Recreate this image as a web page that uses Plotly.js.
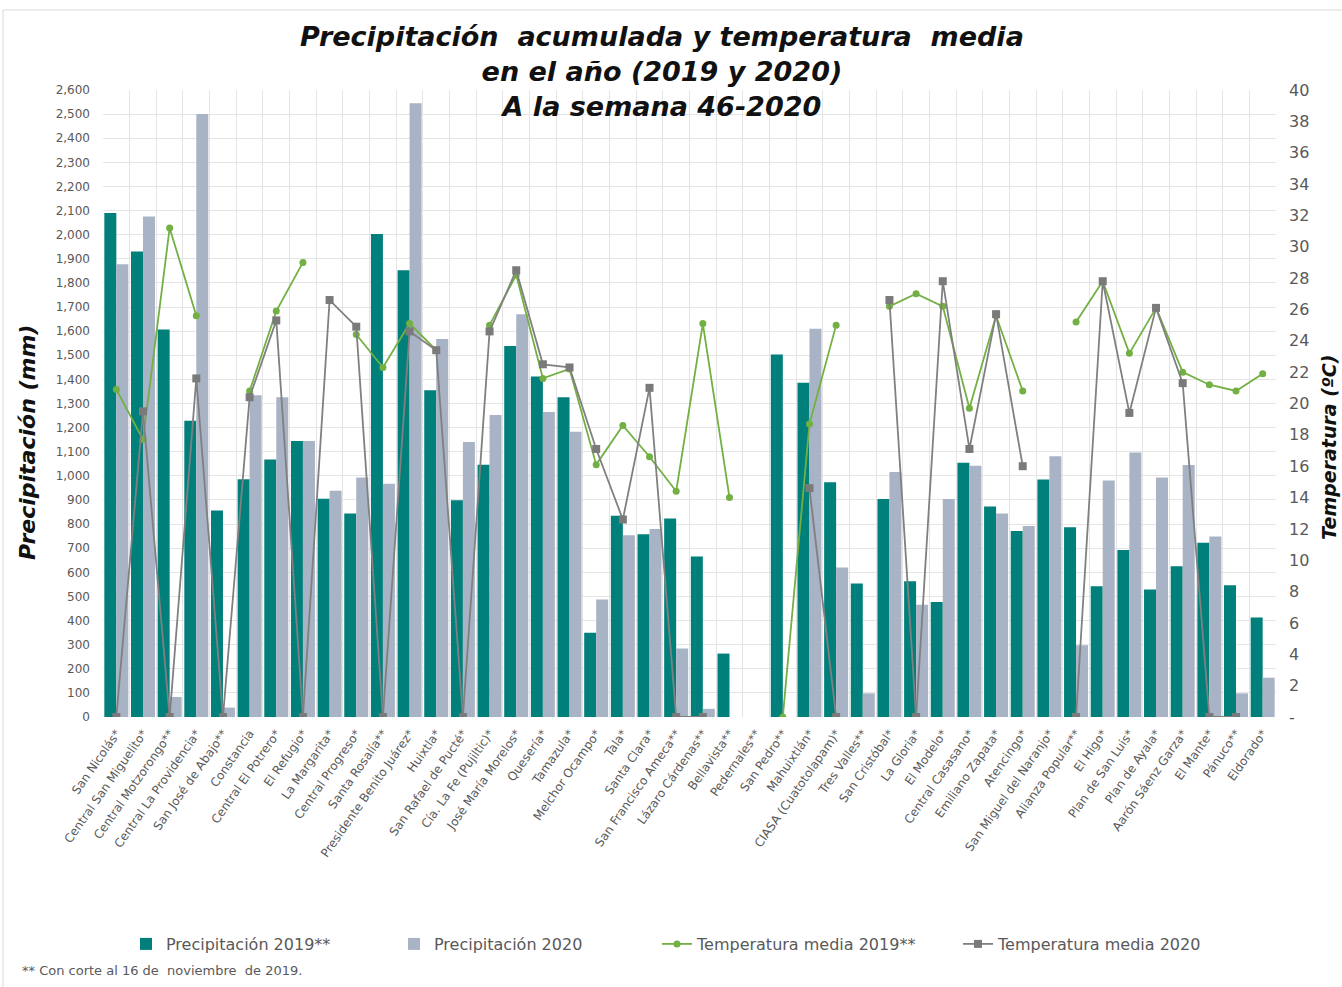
<!DOCTYPE html>
<html>
<head>
<meta charset="utf-8">
<script src="https://cdn.plot.ly/plotly-3.0.1.min.js"></script>
<style>html,body{margin:0;padding:0;background:#fff;}#chart{width:1342px;height:987px;}</style>
</head>
<body>
<div id="chart"></div>
<script>
const categories = ["San Nicolás*","Central San Miguelito*","Central Motzorongo**","Central La Providencia*","San José de Abajo**","Constancia","Central El Potrero*","El Refugio*","La Margarita*","Central Progreso*","Santa Rosalía**","Presidente Benito Juárez*","Huixtla*","San Rafael de Pucté*","Cía. La Fe (Pujiltic)*","José María Morelos*","Quesería*","Tamazula*","Melchor Ocampo*","Tala*","Santa Clara*","San Francisco Ameca**","Lázaro Cárdenas**","Bellavista**","Pedernales**","San Pedro**","Mahuixtlán*","CIASA (Cuatotolapam)*","Tres Valles**","San Cristóbal*","La Gloria*","El Modelo*","Central Casasano*","Emiliano Zapata*","Atencingo*","San Miguel del Naranjo*","Alianza Popular**","El Higo*","Plan de San Luis*","Plan de Ayala*","Aarón Sáenz Garza*","El Mante*","Pánuco**","Eldorado*"];

const precip2019 = [2090,1930,1607,1228,856,986,1068,1145,905,844,2003,1853,1355,899,1046,1538,1412,1326,349,835,758,823,666,263,null,1503,1386,973,554,904,563,477,1054,873,771,985,787,542,692,529,625,723,546,413];
const precip2020 = [1877,2075,83,2500,39,1334,1326,1145,938,993,967,2545,1567,1140,1252,1670,1265,1183,487,754,780,284,34,null,null,null,1610,620,98,1016,465,904,1042,844,792,1081,298,981,1097,993,1045,749,98,163];
const temp2019 = [20.9,17.7,31.2,25.6,null,20.8,25.9,29.0,null,24.4,22.3,25.1,23.4,null,25.0,28.2,21.6,22.2,16.1,18.6,16.6,14.4,25.1,14.0,null,0,18.7,25.0,null,26.2,27.0,26.2,19.7,25.6,20.8,null,25.2,27.8,23.2,26.1,22.0,21.2,20.8,21.9];
const temp2020 = [0,19.5,0,21.6,0,20.4,25.3,0,26.6,24.9,0,24.6,23.4,0,24.6,28.5,22.5,22.3,17.1,12.6,21.0,0,0,null,null,null,14.6,0,null,26.6,0,27.8,17.1,25.7,16.0,null,0,27.8,19.4,26.1,21.3,0,0,null];

const leftTicks = [];
for (let v = 0; v <= 2600; v += 100) leftTicks.push(v);
const rightTicks = [];
for (let v = 0; v <= 40; v += 2) rightTicks.push(v);
const rightText = rightTicks.map(v => v === 0 ? "-" : String(v));

const FONT = "DejaVu Sans, sans-serif";
const GREY = "#595959";

const W = 1342, H = 987, L = 103, R = 1276, T = 90, B = 717;
const px = x => (x - L) / (R - L);
const py = y => (B - y) / (B - T);

const traces = [
  {type:"bar", name:"Precipitación 2019**", x:categories, y:precip2019, marker:{color:"#007F7B"}, legend:"legend"},
  {type:"bar", name:"Precipitación 2020", x:categories, y:precip2020, marker:{color:"#A9B3C6"}, legend:"legend2"},
  {type:"scatter", mode:"lines+markers", name:"Temperatura media 2019**", x:categories, y:temp2019, yaxis:"y2",
   line:{color:"#72B043", width:1.8}, marker:{color:"#72B043", size:7, symbol:"circle"}, legend:"legend3"},
  {type:"scatter", mode:"lines+markers", name:"Temperatura media 2020", x:categories, y:temp2020, yaxis:"y2",
   line:{color:"#808080", width:1.8}, marker:{color:"#7A7A7A", size:8, symbol:"square"}, legend:"legend4"}
];

const legBase = {orientation:"h", yanchor:"middle", xanchor:"left", font:{family:FONT, size:16, color:GREY}, bgcolor:"rgba(0,0,0,0)"};

const layout = {
  width:W, height:H,
  margin:{l:L, r:W-R, t:T, b:H-B, pad:0},
  paper_bgcolor:"#fff", plot_bgcolor:"#fff",
  font:{family:FONT, color:GREY},
  barmode:"group", bargap:0.1, bargroupgap:0,
  xaxis:{type:"category", tickson:"boundaries", showgrid:true, gridcolor:"#e4e4e4", gridwidth:1,
    tickangle:-55, tickfont:{family:FONT, size:12, color:GREY}, ticks:"", showline:false, zeroline:false, range:[-0.5,43.5], ticklabelstandoff:6},
  yaxis:{range:[0,2600], tickvals:leftTicks, tickformat:",", showgrid:true, gridcolor:"#e4e4e4", gridwidth:1,
    tickfont:{family:FONT, size:12, color:GREY}, zeroline:false, showline:false, ticklabelstandoff:12},
  yaxis2:{overlaying:"y", side:"right", range:[0,40], tickvals:rightTicks, ticktext:rightText, showgrid:false,
    tickfont:{family:FONT, size:16, color:GREY}, zeroline:false, showline:false, ticklabelstandoff:12},
  legend: Object.assign({}, legBase, {x:px(126), y:py(944)}),
  legend2: Object.assign({}, legBase, {x:px(394), y:py(944)}),
  legend3: Object.assign({}, legBase, {x:px(657), y:py(944)}),
  legend4: Object.assign({}, legBase, {x:px(958), y:py(944)}),
  annotations:[
    {text:"<b><i>Precipitación  acumulada y temperatura  media<br>en el año (2019 y 2020)<br>A la semana 46-2020</i></b>",
     xref:"paper", yref:"paper", x:px(662), y:py(71), xanchor:"center", yanchor:"middle", showarrow:false,
     font:{family:FONT, size:27, color:"#111"}},
    {text:"<b><i>Precipitación (mm)</i></b>", xref:"paper", yref:"paper", x:px(27), y:py(443), textangle:-90,
     showarrow:false, font:{family:FONT, size:22, color:"#111"}, xanchor:"center", yanchor:"middle"},
    {text:"<b><i>Temperatura (ºC)</i></b>", xref:"paper", yref:"paper", x:px(1329), y:py(448), textangle:-90,
     showarrow:false, font:{family:FONT, size:19, color:"#111"}, xanchor:"center", yanchor:"middle"},
    {text:"** Con corte al 16 de  noviembre  de 2019.", xref:"paper", yref:"paper", x:px(20), y:py(970),
     showarrow:false, font:{family:FONT, size:13, color:GREY}, xanchor:"left", yanchor:"middle"}
  ],
  shapes:[
    {type:"rect", xref:"paper", yref:"paper", x0:px(3), x1:px(1400), y0:py(1100), y1:py(10), line:{color:"#d9d9d9", width:1}, fillcolor:"rgba(0,0,0,0)", layer:"below"}
  ],
  showlegend:true
};

Plotly.newPlot("chart", traces, layout, {displayModeBar:false, responsive:false});
</script>
</body>
</html>
